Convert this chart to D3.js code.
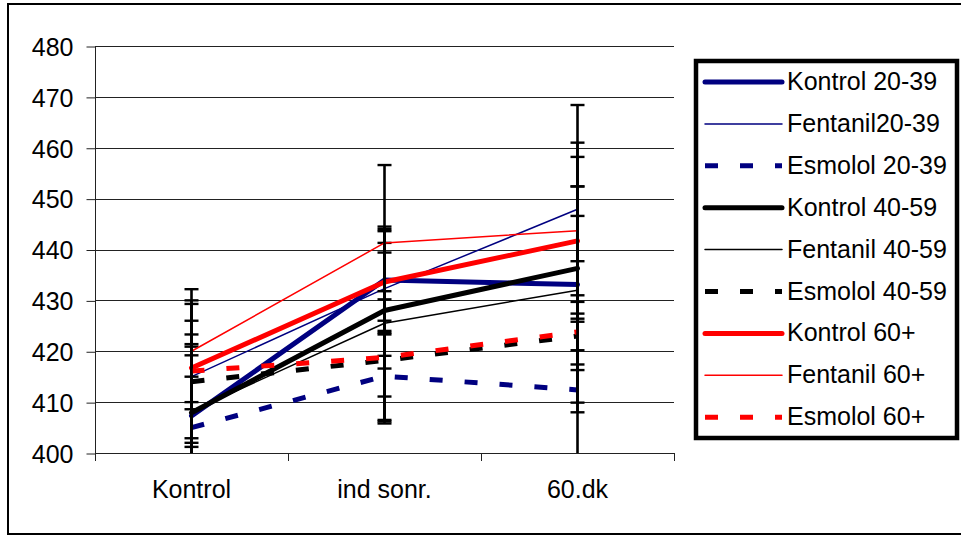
<!DOCTYPE html>
<html>
<head>
<meta charset="utf-8">
<script src="https://cdn.jsdelivr.net/npm/d3@7"></script>
<style>
  body { margin: 0; background: #fff; }
  svg { display: block; font-family: "Liberation Sans", Arial, sans-serif; }
</style>
</head>
<body>
<div id="wrapper"></div>
<script>
// data
const categories = ["Kontrol", "ind sonr.", "60.dk"]
const yTicks = [400, 410, 420, 430, 440, 450, 460, 470, 480]

const seriesNames = [
  "Kontrol 20-39", "Fentanil20-39", "Esmolol 20-39",
  "Kontrol 40-59", "Fentanil 40-59", "Esmolol 40-59",
  "Kontrol 60+", "Fentanil 60+", "Esmolol 60+",
]

const kontrol2039 = [407.3, 434.0, 433.1]
const fentanil2039 = [415.0, 432.3, 447.9]
const esmolol2039 = [405.0, 415.1, 412.4]
const kontrol4059 = [407.9, 428.0, 436.3]
const fentanil4059 = [408.2, 425.5, 432.0]
const esmolol4059 = [414.0, 418.2, 423.0]
const kontrol60 = [416.7, 433.6, 441.7]
const fentanil60 = [420.0, 441.3, 443.7]
const esmolol60 = [416.1, 418.8, 423.8]

// error bar half-lengths (+/-)
const errKontrol2039 = [16.0, 10.0, 25.1]
const errFentanil2039 = [6.4, 9.0, 20.5]
const errEsmolol2039 = [10.0, 4.0, 13.4]
const errKontrol4059 = [13.0, 11.4, 16.1]
const errFentanil4059 = [11.0, 19.0, 14.6]
const errEsmolol4059 = [12.0, 12.0, 6.7]
const errKontrol60 = [15.5, 10.0, 10.7]
const errFentanil60 = [10.0, 15.3, 17.3]
const errEsmolol60 = [13.2, 13.0, 13.9]

const seriesValues = [kontrol2039, fentanil2039, esmolol2039, kontrol4059, fentanil4059, esmolol4059, kontrol60, fentanil60, esmolol60]
const seriesErrors = [errKontrol2039, errFentanil2039, errEsmolol2039, errKontrol4059, errFentanil4059, errEsmolol4059, errKontrol60, errFentanil60, errEsmolol60]

// styles
const colors = ["#000080", "#000080", "#000080", "#000", "#000", "#000", "#f00", "#f00", "#f00"]
const kinds = ["kontrol", "fentanil", "esmolol"]
const lineStyle = {
  kontrol: { width: 5, dash: null, cap: "round" },
  fentanil: { width: 1.5, dash: null, cap: "round" },
  esmolol: { width: 5, dash: "13,22", cap: "butt" },
}

const series = seriesNames.map((name, i) => ({
  name,
  color: colors[i],
  style: lineStyle[kinds[i % 3]],
  points: categories.map((c, j) => ({ cat: c, value: seriesValues[i][j], err: seriesErrors[i][j] })),
}))

const width = 961
const height = 537
const plot = { left: 95, right: 674, top: 46, bottom: 453 }

const svg = d3.select("#wrapper")
  .append("svg")
    .attr("width", width)
    .attr("height", height)

// outer frame
svg.append("rect")
    .attr("x", 8)
    .attr("y", 4)
    .attr("width", 965)
    .attr("height", 530)
    .attr("fill", "#fff")
    .attr("stroke", "#000")
    .attr("stroke-width", 2)

const xScale = d3.scaleBand()
  .domain(categories)
  .range([plot.left, plot.right])

const yScale = d3.scaleLinear()
  .domain([400, 480])
  .range([plot.bottom, plot.top])

const xCenter = d => xScale(d) + xScale.bandwidth() / 2

// gridlines
svg.append("g")
  .selectAll("line")
  .data(yTicks)
  .join("line")
    .attr("x1", plot.left)
    .attr("x2", plot.right)
    .attr("y1", d => Math.round(yScale(d)) + 0.5)
    .attr("y2", d => Math.round(yScale(d)) + 0.5)
    .attr("stroke", "#222")
    .attr("stroke-width", 1)

// y axis
const yAxis = svg.append("g")
    .attr("transform", `translate(${plot.left + 0.5},0.5)`)
    .call(d3.axisLeft(yScale).tickValues(yTicks).tickSize(9).tickSizeOuter(0).tickPadding(13))
yAxis.select(".domain").remove()
yAxis.selectAll(".tick line").attr("stroke", "#222")
yAxis.selectAll("text")
    .attr("font-size", 25)
    .attr("font-family", "'Liberation Sans', Arial, sans-serif")
    .attr("fill", "#000")
    .attr("dy", "0.35em")

svg.append("line")
    .attr("x1", plot.left + 0.5)
    .attr("x2", plot.left + 0.5)
    .attr("y1", plot.top)
    .attr("y2", plot.bottom + 8)
    .attr("stroke", "#222")

// x axis
const xAxis = svg.append("g")
    .attr("transform", `translate(0,${Math.round(plot.bottom) + 0.5})`)
    .call(d3.axisBottom(xScale).tickSize(0).tickPadding(27))
xAxis.select(".domain").remove()
xAxis.selectAll("text")
    .attr("font-size", 25)
    .attr("font-family", "'Liberation Sans', Arial, sans-serif")
    .attr("fill", "#000")

svg.append("line")
    .attr("x1", plot.left)
    .attr("x2", plot.right)
    .attr("y1", Math.round(plot.bottom) + 0.5)
    .attr("y2", Math.round(plot.bottom) + 0.5)
    .attr("stroke", "#222")

svg.append("g")
  .selectAll("line")
  .data(categories)
  .join("line")
    .attr("x1", d => Math.round(xScale(d) + xScale.bandwidth()) + 0.5)
    .attr("x2", d => Math.round(xScale(d) + xScale.bandwidth()) + 0.5)
    .attr("y1", plot.bottom)
    .attr("y2", plot.bottom + 8)
    .attr("stroke", "#222")

// clip to plot area
svg.append("clipPath")
    .attr("id", "plot-clip")
  .append("rect")
    .attr("x", plot.left - 10)
    .attr("y", plot.top - 10)
    .attr("width", plot.right - plot.left + 20)
    .attr("height", plot.bottom - plot.top + 10)

const marks = svg.append("g")
    .attr("clip-path", "url(#plot-clip)")

const lineGenerator = d3.line()
  .x(d => xCenter(d.cat))
  .y(d => yScale(d.value))

const capHalf = 7

series.forEach(s => {
  const g = marks.append("g")

  g.append("path")
      .attr("d", lineGenerator(s.points))
      .attr("fill", "none")
      .attr("stroke", s.color)
      .attr("stroke-width", s.style.width)
      .attr("stroke-linecap", s.style.cap)
      .attr("stroke-linejoin", "round")
      .attr("stroke-dasharray", s.style.dash)

  const bars = g.selectAll(".err")
    .data(s.points)
    .join("g")
      .attr("class", "err")

  bars.append("line")
      .attr("x1", d => xCenter(d.cat))
      .attr("x2", d => xCenter(d.cat))
      .attr("y1", d => yScale(d.value + d.err))
      .attr("y2", d => yScale(d.value - d.err))
      .attr("stroke", "#000")
      .attr("stroke-width", 2.6)

  bars.selectAll(".cap")
    .data(d => [d.value + d.err, d.value - d.err].map(v => ({ cat: d.cat, v })))
    .join("line")
      .attr("class", "cap")
      .attr("x1", d => xCenter(d.cat) - capHalf)
      .attr("x2", d => xCenter(d.cat) + capHalf)
      .attr("y1", d => yScale(d.v))
      .attr("y2", d => yScale(d.v))
      .attr("stroke", "#000")
      .attr("stroke-width", 2.4)
      .attr("display", d => d.v < 400 ? "none" : null)
})

// legend
const legend = svg.append("g")
legend.append("rect")
    .attr("x", 696)
    .attr("y", 61)
    .attr("width", 261)
    .attr("height", 377)
    .attr("fill", "#fff")
    .attr("stroke", "#000")
    .attr("stroke-width", 4.5)

const legendRows = legend.selectAll(".row")
  .data(series)
  .join("g")
    .attr("class", "row")
    .attr("transform", (d, i) => `translate(0,${90 + i * 41.9})`)

legendRows.append("line")
    .attr("x1", 705)
    .attr("x2", 782)
    .attr("y1", -8)
    .attr("y2", -8)
    .attr("stroke", d => d.color)
    .attr("stroke-width", d => d.style.width)
    .attr("stroke-linecap", d => d.style.cap)
    .attr("stroke-dasharray", d => d.style.dash)

legendRows.append("text")
    .attr("x", 787)
    .attr("y", 0)
    .attr("font-size", 25)
    .attr("fill", "#000")
    .text(d => d.name)
</script>
</body>
</html>
